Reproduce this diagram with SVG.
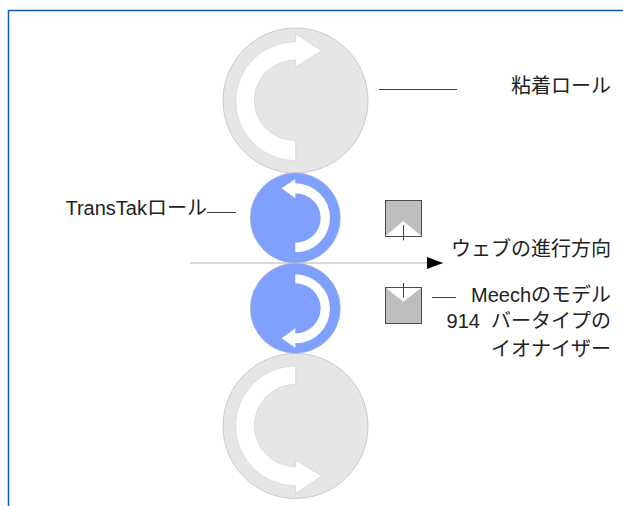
<svg xmlns="http://www.w3.org/2000/svg" width="623" height="506" viewBox="0 0 623 506">
<style>
.grey{fill:#e6e6e6;stroke:#b8b8b8;stroke-width:.7}
.blue{fill:#80a0ff;stroke:#a0aecb;stroke-width:.6}
.white{fill:#fff;stroke:#c4c4c4;stroke-width:.5}
.wb{fill:#fff}
.ion{fill:#bcbec0;stroke:#4a4a4a;stroke-width:1}
.lead{stroke:#404040;stroke-width:1;fill:none}
text{font-family:"Liberation Sans","Noto Sans CJK JP",sans-serif;font-size:20px;fill:#222;text-anchor:end}
</style>
<defs>
<marker id="ah" markerUnits="userSpaceOnUse" markerWidth="16" markerHeight="12" refX="16" refY="6" orient="auto"><path d="M0 0L16 6L0 12Z" fill="#000"/></marker>
</defs>
<rect width="623" height="506" fill="#fff"/>
<path id="frame" d="M8.5 506V10.5H623" fill="none" stroke="#0a5fb4" stroke-width="1.5"/>
<g id="adhesive-roll-top">
<circle class="grey" cx="295.5" cy="100.5" r="72.5"/>
<path class="white" d="M295.7 34L321.7 50.7L295.7 66.7V60A41.4 40.3 0 0 0 295.7 140.7V160.7A60 59.5 0 0 1 295.7 41.7Z"/>
</g>
<g id="adhesive-roll-bottom">
<circle class="grey" cx="295.5" cy="426" r="72.5"/>
<path class="white" d="M295.7 366V384.3A41.4 41.2 0 0 0 295.7 466.7V460L321.7 476L295.7 493.3V485.7A60 59.8 0 0 1 295.7 366Z"/>
</g>
<g id="transtak-roll-top">
<circle class="blue" cx="295.3" cy="218" r="45"/>
<path class="wb" d="M295.3 179L281.7 188.3L295.3 198.3V193.3A25.4 24.7 0 0 1 295.3 242.7V252.3A34.7 34.5 0 0 0 295.3 183.3Z"/>
</g>
<g id="transtak-roll-bottom">
<circle class="blue" cx="295.3" cy="308.3" r="45"/>
<path class="wb" d="M295.3 274.3V283.3A25.4 25 0 0 1 295.3 333.3V328.3L281.7 338.3L295.3 347.7V343.3A34.7 34.5 0 0 0 295.3 274.3Z"/>
</g>
<g id="ionizer-top">
<rect class="ion" x="385.5" y="200.5" width="36" height="36"/>
<path class="wb" d="M385.5 236L403.3 221L421.5 236Z"/>
<path class="lead" d="M403.5 225V240.5"/>
</g>
<g id="ionizer-bottom">
<rect class="ion" x="385.5" y="287.5" width="36" height="36"/>
<path class="wb" d="M386 288L403.3 301.7L421 288Z"/>
<path class="lead" d="M403.5 283V297.5"/>
</g>
<g id="connectors">
<path d="M190 263H443" stroke="#b4b4b4" stroke-width="1.2" fill="none" marker-end="url(#ah)"/>
<path class="lead" d="M379 89.5H457"/>
<path class="lead" d="M207 212.5H236"/>
<path class="lead" d="M432 297.5H456"/>
</g>
<g id="labels">
<text x="611" y="93">粘着ロール</text>
<text x="207" y="215">TransTakロール</text>
<text x="611" y="256">ウェブの進行方向</text>
<text x="611" y="302">Meechのモデル</text>
<text x="611" y="328" xml:space="preserve">914  バータイプの</text>
<text x="611" y="356">イオナイザー</text>
</g>
</svg>
